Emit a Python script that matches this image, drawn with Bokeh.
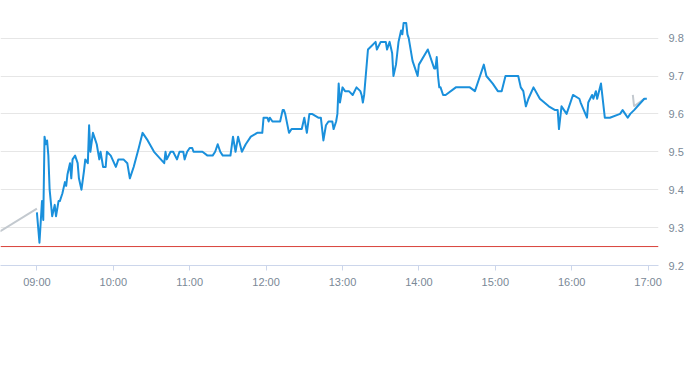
from bokeh.plotting import figure
from bokeh.models import Span, FixedTicker, Range1d
from bokeh.embed import file_html
from bokeh.resources import INLINE

# ---- data ----
tick_labels = ["09:00", "10:00", "11:00", "12:00", "13:00", "14:00", "15:00", "16:00", "17:00"]
y_ticks = [9.2, 9.3, 9.4, 9.5, 9.6, 9.7, 9.8]
prev_close = 9.25

pre_times = ["08:31", "09:00"]
pre_prices = [9.29, 9.35]

late_times = ["16:48", "16:49", "16:53", "16:57"]
late_prices = [9.65, 9.62, 9.63, 9.64]

times = [
    "09:00", "09:02", "09:04", "09:05", "09:06", "09:07", "09:08", "09:09", "09:10", "09:12",
    "09:14", "09:15", "09:17", "09:18", "09:20", "09:22", "09:23", "09:24", "09:26", "09:27",
    "09:28", "09:30", "09:32", "09:33", "09:35", "09:37", "09:38", "09:40", "09:41", "09:42",
    "09:44", "09:45", "09:47", "09:49", "09:50", "09:51", "09:52", "09:54", "09:55", "09:58",
    "10:02", "10:04", "10:08", "10:11", "10:13", "10:16", "10:20", "10:23", "10:27", "10:32",
    "10:40", "10:41", "10:42", "10:45", "10:47", "10:50", "10:52", "10:55", "10:56", "10:58",
    "11:00", "11:02", "11:03", "11:10", "11:14", "11:18", "11:20", "11:21", "11:22", "11:24",
    "11:26", "11:32", "11:34", "11:36", "11:38", "11:41", "11:44", "11:48", "11:53", "11:57",
    "11:58", "12:01", "12:02", "12:03", "12:05", "12:11", "12:13", "12:14", "12:15", "12:18",
    "12:20", "12:22", "12:28", "12:30", "12:32", "12:34", "12:36", "12:41", "12:43", "12:45",
    "12:47", "12:49", "12:52", "12:53", "12:55", "12:56", "12:57", "12:58", "13:00", "13:02",
    "13:05", "13:08", "13:11", "13:14", "13:15", "13:16", "13:17", "13:20", "13:23", "13:26",
    "13:27", "13:30", "13:31", "13:34", "13:35", "13:37", "13:39", "13:40", "13:42", "13:43",
    "13:44", "13:46", "13:47", "13:48", "13:50", "13:51", "13:52", "13:55", "13:56", "13:57",
    "13:59", "14:00", "14:07", "14:12", "14:13", "14:14", "14:15", "14:16", "14:17", "14:19",
    "14:21", "14:29", "14:40", "14:44", "14:48", "14:51", "14:53", "14:58", "15:02", "15:05",
    "15:08", "15:18", "15:20", "15:22", "15:24", "15:26", "15:30", "15:35", "15:42", "15:47",
    "15:49", "15:50", "15:52", "15:56", "16:01", "16:06", "16:07", "16:12", "16:13", "16:16",
    "16:17", "16:19", "16:20", "16:23", "16:24", "16:26", "16:30", "16:38", "16:40", "16:42",
    "16:44", "16:46", "16:49", "16:57", "16:59",
]
prices = [
    9.34, 9.26, 9.37, 9.32, 9.54, 9.52, 9.53, 9.49, 9.40, 9.33,
    9.36, 9.33, 9.37, 9.37, 9.39, 9.42, 9.41, 9.44, 9.47, 9.43,
    9.48, 9.49, 9.47, 9.43, 9.40, 9.45, 9.48, 9.47, 9.57, 9.50,
    9.55, 9.54, 9.52, 9.48, 9.50, 9.48, 9.46, 9.46, 9.50, 9.49,
    9.46, 9.48, 9.48, 9.47, 9.43, 9.46, 9.51, 9.55, 9.53, 9.50,
    9.47, 9.50, 9.48, 9.50, 9.50, 9.48, 9.50, 9.50, 9.48, 9.50,
    9.51, 9.51, 9.50, 9.50, 9.49, 9.49, 9.50, 9.51, 9.52, 9.50,
    9.49, 9.49, 9.54, 9.50, 9.54, 9.50, 9.52, 9.54, 9.55, 9.55,
    9.59, 9.59, 9.58, 9.59, 9.58, 9.58, 9.61, 9.61, 9.60, 9.55,
    9.56, 9.56, 9.56, 9.59, 9.55, 9.60, 9.60, 9.59, 9.59, 9.53,
    9.57, 9.58, 9.58, 9.56, 9.58, 9.60, 9.68, 9.63, 9.67, 9.66,
    9.66, 9.65, 9.67, 9.66, 9.65, 9.63, 9.65, 9.77, 9.78, 9.79,
    9.77, 9.79, 9.79, 9.79, 9.77, 9.79, 9.76, 9.70, 9.73, 9.76,
    9.79, 9.82, 9.81, 9.84, 9.84, 9.81, 9.80, 9.74, 9.73, 9.72,
    9.70, 9.73, 9.77, 9.72, 9.72, 9.75, 9.70, 9.67, 9.67, 9.65,
    9.65, 9.67, 9.67, 9.66, 9.70, 9.73, 9.70, 9.68, 9.66, 9.66,
    9.70, 9.70, 9.67, 9.66, 9.62, 9.64, 9.67, 9.64, 9.62, 9.61,
    9.61, 9.56, 9.62, 9.60, 9.65, 9.64, 9.63, 9.59, 9.63, 9.65,
    9.64, 9.66, 9.64, 9.68, 9.65, 9.59, 9.59, 9.60, 9.61, 9.60,
    9.59, 9.60, 9.61, 9.64, 9.64,
]
assert len(times) == len(prices)


def hours(s):
    h, m = s.split(":")
    return int(h) + int(m) / 60.0


# ---- layout ----
FW, FH = 658, 265
PX_PER_H = 76.4
PX_PER_UNIT = 379.0
x0 = 9.0 - 36.4 / PX_PER_H

p = figure(
    frame_width=FW, frame_height=FH,
    min_border_left=0, min_border_top=0, min_border_right=19, min_border_bottom=84,
    x_range=Range1d(x0, x0 + FW / PX_PER_H),
    y_range=Range1d(9.2, 9.2 + FH / PX_PER_UNIT),
    y_axis_location="right",
    output_backend="svg", toolbar_location=None,
    background_fill_color="white", border_fill_color="white",
)
p.outline_line_color = None

# grid
p.xgrid.visible = False
p.ygrid.grid_line_color = "#e6e6e6"
p.ygrid.grid_line_width = 1

# x axis
xt = [int(t[:2]) for t in tick_labels]
p.xaxis.ticker = FixedTicker(ticks=xt)
p.xaxis.major_label_overrides = {v: t for v, t in zip(xt, tick_labels)}
p.xaxis.axis_line_color = "#ccd6eb"
p.xaxis.major_tick_line_color = "#ccd6eb"
p.xaxis.major_tick_in = 0
p.xaxis.major_tick_out = 5
p.xaxis.minor_tick_line_color = None
p.xaxis.major_label_text_font = "Liberation Sans"
p.xaxis.major_label_text_font_size = "11px"
p.xaxis.major_label_text_color = "#7a8896"
p.xaxis.major_label_standoff = 5

# y axis
p.yaxis.ticker = FixedTicker(ticks=y_ticks)
p.yaxis.major_label_overrides = {v: "%.1f" % v for v in y_ticks}
p.yaxis.axis_line_color = None
p.yaxis.major_tick_line_color = None
p.yaxis.minor_tick_line_color = None
p.yaxis.major_label_text_font = "Liberation Sans"
p.yaxis.major_label_text_font_size = "11px"
p.yaxis.major_label_text_color = "#7a8896"
p.yaxis.major_label_standoff = 4

# previous close
p.add_layout(Span(location=prev_close, dimension="width", line_color="#d9423a", line_width=1))

# lines
p.line([hours(t) for t in pre_times], pre_prices, line_color="#c3c9cf", line_width=2)
p.line([hours(t) for t in late_times], late_prices, line_color="#c3c9cf", line_width=2)
p.line([hours(t) for t in times], prices, line_color="#1a90dc", line_width=2, line_join="round")

open("out.html", "w").write(file_html(p, INLINE))
